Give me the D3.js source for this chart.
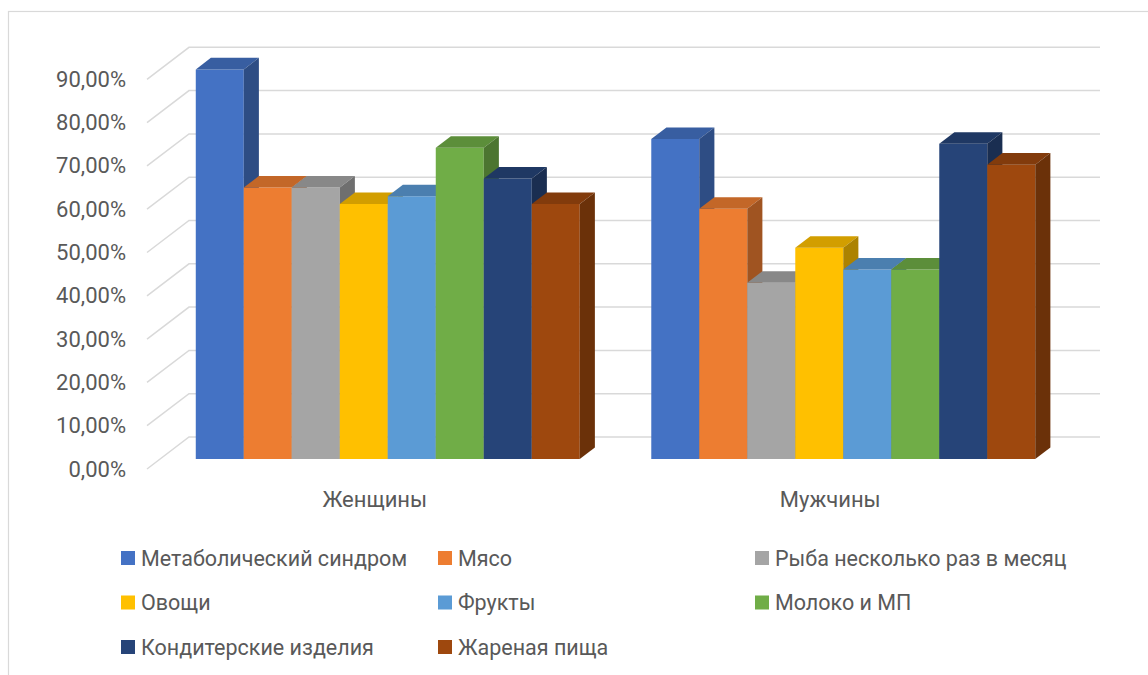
<!DOCTYPE html>
<html>
<head>
<meta charset="utf-8">
<script src="https://cdn.jsdelivr.net/npm/d3@7"></script>
<style>
  body { margin: 0; background: #fff; }
  svg { display: block; font-family: Roboto, "Noto Sans", sans-serif; }
</style>
</head>
<body>
<svg id="chart" width="1148" height="675"></svg>
<script>
// data
var groups = ['Женщины', 'Мужчины'];
var series = ['Метаболический синдром', 'Мясо', 'Рыба несколько раз в месяц',
  'Овощи', 'Фрукты', 'Молоко и МП', 'Кондитерские изделия', 'Жареная пища'];
var women = [0.900, 0.627, 0.627, 0.589, 0.607, 0.719, 0.648, 0.589];
var men   = [0.739, 0.578, 0.407, 0.488, 0.438, 0.438, 0.728, 0.680];
var colors = ['#4472C4', '#ED7D31', '#A5A5A5', '#FFC000', '#5B9BD5', '#70AD47', '#264478', '#9E480E'];

var values = [women, men];

var svg = d3.select('#chart');

// chart area border (runs off the picture right/bottom)
svg.append('rect')
  .attr('x', 8.5).attr('y', 11.5)
  .attr('width', 1300).attr('height', 800)
  .attr('fill', 'none').attr('stroke', '#d9d9d9').attr('stroke-width', 1.2);

// front plane of the 3d box
var left = 147, right = 1058, bottom = 469;
var depthX = 42, depthY = -32;   // offset from front to back wall
var barD0 = 0.31, barD1 = 0.67;  // bar depth range (fraction)

var y = d3.scaleLinear().domain([0, 0.9]).range([bottom, bottom - 0.9 * 433]);
var x0 = d3.scaleBand().domain(groups).range([left, right])
  .paddingInner(0.157).paddingOuter(0.0785);
var x1 = d3.scaleBand().domain(series).range([0, x0.bandwidth()]);

var ticks = y.ticks(9);
var ru = d3.formatLocale({decimal: ',', thousands: ' ', grouping: [3], currency: ['', ' ₽']});
var fmt = ru.format('.2%');

// gridlines: diagonal on the left wall + horizontal on the back wall
var grid = svg.append('g').attr('stroke', '#d9d9d9').attr('stroke-width', 1.5).attr('fill', 'none');
grid.selectAll('path').data(ticks).enter().append('path')
  .attr('d', function(t) {
    return 'M' + left + ',' + y(t) +
      'L' + (left + depthX) + ',' + (y(t) + depthY) +
      'L' + (right + depthX) + ',' + (y(t) + depthY);
  });

// y axis labels
var axis = svg.append('g')
  .attr('transform', 'translate(' + 126 + ',0)')
  .call(d3.axisLeft(y).tickValues(ticks).tickFormat(fmt).tickSize(0).tickPadding(0));
axis.select('.domain').remove();
axis.selectAll('text')
  .attr('fill', '#595959')
  .style('font-size', '22px')
  .style('font-family', 'Roboto, sans-serif');

// bars
var bars = [];
values.forEach(function(vals, gi) {
  vals.forEach(function(v, si) {
    bars.push({g: groups[gi], s: series[si], v: v, c: colors[si]});
  });
});

var ox0 = depthX * barD0, oy0 = depthY * barD0;
var ox1 = depthX * barD1, oy1 = depthY * barD1;

function pt(x, yy) { return x + ',' + yy; }

var bar = svg.append('g').selectAll('g').data(bars).enter().append('g');

bar.each(function(d) {
  var g = d3.select(this);
  var xl = x0(d.g) + x1(d.s), xr = xl + x1.bandwidth();
  var yt = y(d.v), yb = y(0);
  var base = d3.color(d.c);
  // front
  g.append('path')
    .attr('d', 'M' + pt(xl + ox0, yb + oy0) + 'L' + pt(xl + ox0, yt + oy0) +
      'L' + pt(xr + ox0, yt + oy0) + 'L' + pt(xr + ox0, yb + oy0) + 'Z')
    .attr('fill', base.formatHex());
  // top
  g.append('path')
    .attr('d', 'M' + pt(xl + ox0, yt + oy0) + 'L' + pt(xl + ox1, yt + oy1) +
      'L' + pt(xr + ox1, yt + oy1) + 'L' + pt(xr + ox0, yt + oy0) + 'Z')
    .attr('fill', base.darker(0.55).formatHex());
  // side
  g.append('path')
    .attr('d', 'M' + pt(xr + ox0, yt + oy0) + 'L' + pt(xr + ox1, yt + oy1) +
      'L' + pt(xr + ox1, yb + oy1) + 'L' + pt(xr + ox0, yb + oy0) + 'Z')
    .attr('fill', base.darker(1.1).formatHex());
});

// category labels
svg.append('g').selectAll('text').data(groups).enter().append('text')
  .attr('x', function(d) { return x0(d) + x0.bandwidth() / 2; })
  .attr('y', 507)
  .attr('text-anchor', 'middle')
  .attr('fill', '#595959')
  .style('font-size', '22px')
  .text(function(d) { return d; });

// legend, three columns
var legend = svg.append('g').selectAll('g').data(series).enter().append('g')
  .attr('transform', function(d, i) {
    return 'translate(' + (121 + (i % 3) * 317) + ',' + (558 + Math.floor(i / 3) * 44.5) + ')';
  });
legend.append('rect')
  .attr('x', 0).attr('y', -7).attr('width', 14).attr('height', 14)
  .attr('fill', function(d, i) { return colors[i]; });
legend.append('text')
  .attr('x', 20).attr('y', 7.5)
  .attr('fill', '#595959')
  .style('font-size', '21.5px')
  .text(function(d) { return d; });
</script>
</body>
</html>
